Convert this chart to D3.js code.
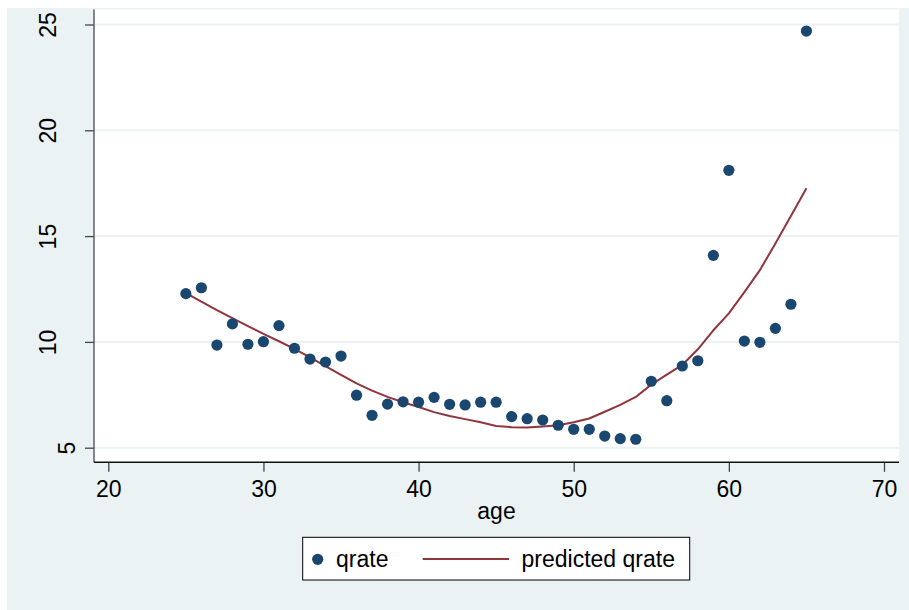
<!DOCTYPE html>
<html>
<head>
<meta charset="utf-8">
<script src="https://cdn.jsdelivr.net/npm/d3@7"></script>
<style>
  html, body { margin: 0; padding: 0; background: #ffffff; }
  svg { display: block; }
  text { font-family: "Liberation Sans", Arial, Helvetica, sans-serif; fill: #000; }
</style>
</head>
<body>
<svg id="chart" width="909" height="610"></svg>
<script>
// Observed quit rate by age, and the fitted (predicted) rate
const ages = [25,26,27,28,29,30,31,32,33,34,35,36,37,38,39,40,41,42,43,44,45,
              46,47,48,49,50,51,52,53,54,55,56,57,58,59,60,61,62,63,64,65];
const qrate = [12.28,12.56,9.85,10.85,9.89,10.01,10.77,9.70,9.19,9.05,9.33,7.48,6.53,7.06,7.17,7.15,7.38,7.05,7.02,7.15,7.15,
               6.47,6.37,6.31,6.06,5.87,5.87,5.55,5.43,5.40,8.14,7.22,8.86,9.11,14.09,18.11,10.04,9.98,10.64,11.78,24.69];
const predicted = [12.30,11.90,11.50,11.12,10.75,10.38,10.03,9.67,9.27,8.86,8.44,8.04,7.70,7.40,7.15,6.92,6.68,6.50,6.35,6.20,6.03,
                   5.97,5.95,6.00,6.06,6.20,6.38,6.70,7.02,7.40,7.98,8.45,8.91,9.65,10.55,11.35,12.35,13.39,14.65,15.95,17.26];
const xTicks = [20,30,40,50,60,70];
const yTicks = [5,10,15,20,25];
const seriesNames = ["qrate", "predicted qrate"];
const xTitle = "age";

const dotColor = "#1a476f";
const lineColor = "#90353b";
const bgColor = "#eaf2f3";
const fontSize = 23;

const svg = d3.select("#chart");

// outer graph region
svg.append("rect")
  .attr("x", 7).attr("y", 8).attr("width", 902).attr("height", 602)
  .attr("fill", bgColor);

// plot region
const plot = { left: 94, right: 899, top: 9.5, bottom: 462.3 };
svg.append("rect")
  .attr("x", plot.left).attr("y", plot.top)
  .attr("width", plot.right - plot.left).attr("height", plot.bottom - plot.top)
  .attr("fill", "#ffffff");

const x = d3.scaleLinear().domain([20, 70]).range([108.3, 884]);
const y = d3.scaleLinear().domain([5, 25]).range([447.7, 24.5]);

// horizontal grid lines
svg.append("g").selectAll("line").data(yTicks).join("line")
  .attr("x1", plot.left).attr("x2", plot.right)
  .attr("y1", d => y(d)).attr("y2", d => y(d))
  .attr("stroke", bgColor).attr("stroke-width", 2);

// y axis
const yAxis = svg.append("g")
  .attr("transform", `translate(${plot.left},0)`)
  .call(d3.axisLeft(y).tickValues(yTicks).tickSize(9).tickSizeOuter(0).tickFormat(d3.format("d")));
yAxis.select(".domain").remove();
yAxis.selectAll(".tick line").attr("stroke", "#444").attr("stroke-width", 1.3);
yAxis.selectAll(".tick text")
  .style("font-size", fontSize + "px")
  .attr("text-anchor", "middle")
  .attr("dy", null)
  .attr("x", null)
  .attr("transform", function(d) {
    const len = String(d).length;
    return `translate(${-19 * len},0) rotate(-90)`;
  });
svg.append("line")
  .attr("x1", plot.left).attr("x2", plot.left)
  .attr("y1", plot.top).attr("y2", plot.bottom)
  .attr("stroke", "#555").attr("stroke-width", 1.4);

// x axis
const xAxis = svg.append("g")
  .attr("transform", `translate(0,${plot.bottom})`)
  .call(d3.axisBottom(x).tickValues(xTicks).tickSize(9.5).tickSizeOuter(0).tickFormat(d3.format("d")));
xAxis.select(".domain").remove();
xAxis.selectAll(".tick line").attr("stroke", "#444").attr("stroke-width", 1.3);
xAxis.selectAll(".tick text")
  .style("font-size", fontSize + "px")
  .attr("dy", null)
  .attr("y", 34.5);
svg.append("line")
  .attr("x1", plot.left).attr("x2", plot.right)
  .attr("y1", plot.bottom).attr("y2", plot.bottom)
  .attr("stroke", "#111").attr("stroke-width", 1.4);

// x title
svg.append("text")
  .attr("x", (plot.left + plot.right) / 2).attr("y", 519)
  .attr("text-anchor", "middle")
  .style("font-size", fontSize + "px")
  .text(xTitle);

// fitted line
const pts = ages.map((a, i) => [a, predicted[i]]);
svg.append("path")
  .datum(pts)
  .attr("fill", "none")
  .attr("stroke", lineColor)
  .attr("stroke-width", 2)
  .attr("stroke-linejoin", "round")
  .attr("d", d3.line().x(d => x(d[0])).y(d => y(d[1])));

// observed points
svg.append("g").selectAll("circle")
  .data(ages.map((a, i) => [a, qrate[i]]))
  .join("circle")
  .attr("cx", d => x(d[0])).attr("cy", d => y(d[1]))
  .attr("r", 5.6)
  .attr("fill", dotColor);

// legend
const legend = svg.append("g");
legend.append("rect")
  .attr("x", 302.7).attr("y", 537.3).attr("width", 387).attr("height", 42.7)
  .attr("fill", "#ffffff").attr("stroke", "#000").attr("stroke-width", 1);
legend.append("circle")
  .attr("cx", 317.7).attr("cy", 559.3).attr("r", 5.6).attr("fill", dotColor);
legend.append("text")
  .attr("x", 336).attr("y", 567.3)
  .style("font-size", fontSize + "px")
  .text(seriesNames[0]);
legend.append("line")
  .attr("x1", 422.7).attr("x2", 509).attr("y1", 559).attr("y2", 559)
  .attr("stroke", lineColor).attr("stroke-width", 2);
legend.append("text")
  .attr("x", 521.5).attr("y", 567.3)
  .style("font-size", fontSize + "px")
  .text(seriesNames[1]);
</script>
</body>
</html>
